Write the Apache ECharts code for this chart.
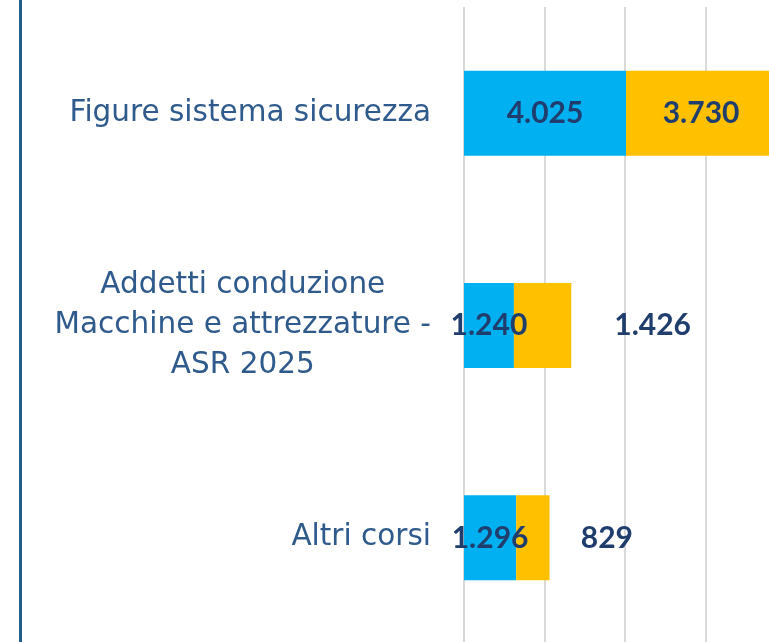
<!DOCTYPE html>
<html>
<head>
<meta charset="utf-8">
<script src="https://cdn.jsdelivr.net/npm/echarts@6/dist/echarts.min.js"></script>
<style>
  html, body { margin: 0; padding: 0; background: #fff; }
  #chart { width: 769px; height: 642px; }
</style>
</head>
<body>
<div id="chart"></div>
<script>
var categories = ['Figure sistema sicurezza', 'Addetti conduzione\nMacchine e attrezzature -\nASR 2025', 'Altri corsi']
var blueValues = [4025, 1240, 1296]
var yellowValues = [3730, 1426, 829]
var xTicks = { min: 0, max: 8000, interval: 2000 }

var chart = echarts.init(document.getElementById('chart'))

function fmt (v) {
  return String(v).replace(/\B(?=(\d{3})+(?!\d))/g, '.')
}

// Excel put some of the yellow labels off to the right of the bar
var yellowShift = [0, 110, 74]
var yellowData = yellowValues.map(function (v, i) {
  return { value: v, label: { offset: [yellowShift[i], 0] } }
})

var valueLabel = {
  show: true,
  position: 'inside',
  color: '#1F3E6E',
  fontFamily: 'Lato',
  fontWeight: 'bold',
  fontSize: 30,
  formatter: function (p) { return fmt(p.value) }
}

chart.setOption({
  animation: false,
  grid: { left: 464, top: 7, width: 322, height: 637, outerBoundsMode: 'none' },
  graphic: [{
    type: 'rect',
    shape: { x: 19, y: 0, width: 3, height: 642 },
    style: { fill: '#1F5F88' }
  }],
  xAxis: {
    type: 'value',
    min: xTicks.min,
    max: xTicks.max,
    interval: xTicks.interval,
    axisLabel: { show: false },
    axisLine: { show: false },
    axisTick: { show: false },
    splitLine: { lineStyle: { color: '#D9D9D9', width: 2 } }
  },
  yAxis: {
    type: 'category',
    inverse: true,
    data: categories,
    axisLine: { show: false },
    axisTick: { show: false },
    axisLabel: {
      margin: 33,
      formatter: function (v) {
        return v.split('\n').map(function (s) { return '{c|' + s + '}' }).join('\n')
      },
      rich: {
        c: {
          align: 'center',
          color: '#2E5A8C',
          fontFamily: 'DejaVu Sans',
          fontSize: 29.5,
          lineHeight: 40
        }
      }
    }
  },
  series: [
    {
      name: 'A',
      type: 'bar',
      stack: 'tot',
      barCategoryGap: '60%',
      data: blueValues,
      itemStyle: { color: '#00B0F0' },
      label: valueLabel
    },
    {
      name: 'B',
      type: 'bar',
      stack: 'tot',
      data: yellowData,
      itemStyle: { color: '#FFC000' },
      label: valueLabel
    }
  ]
})
</script>
</body>
</html>
